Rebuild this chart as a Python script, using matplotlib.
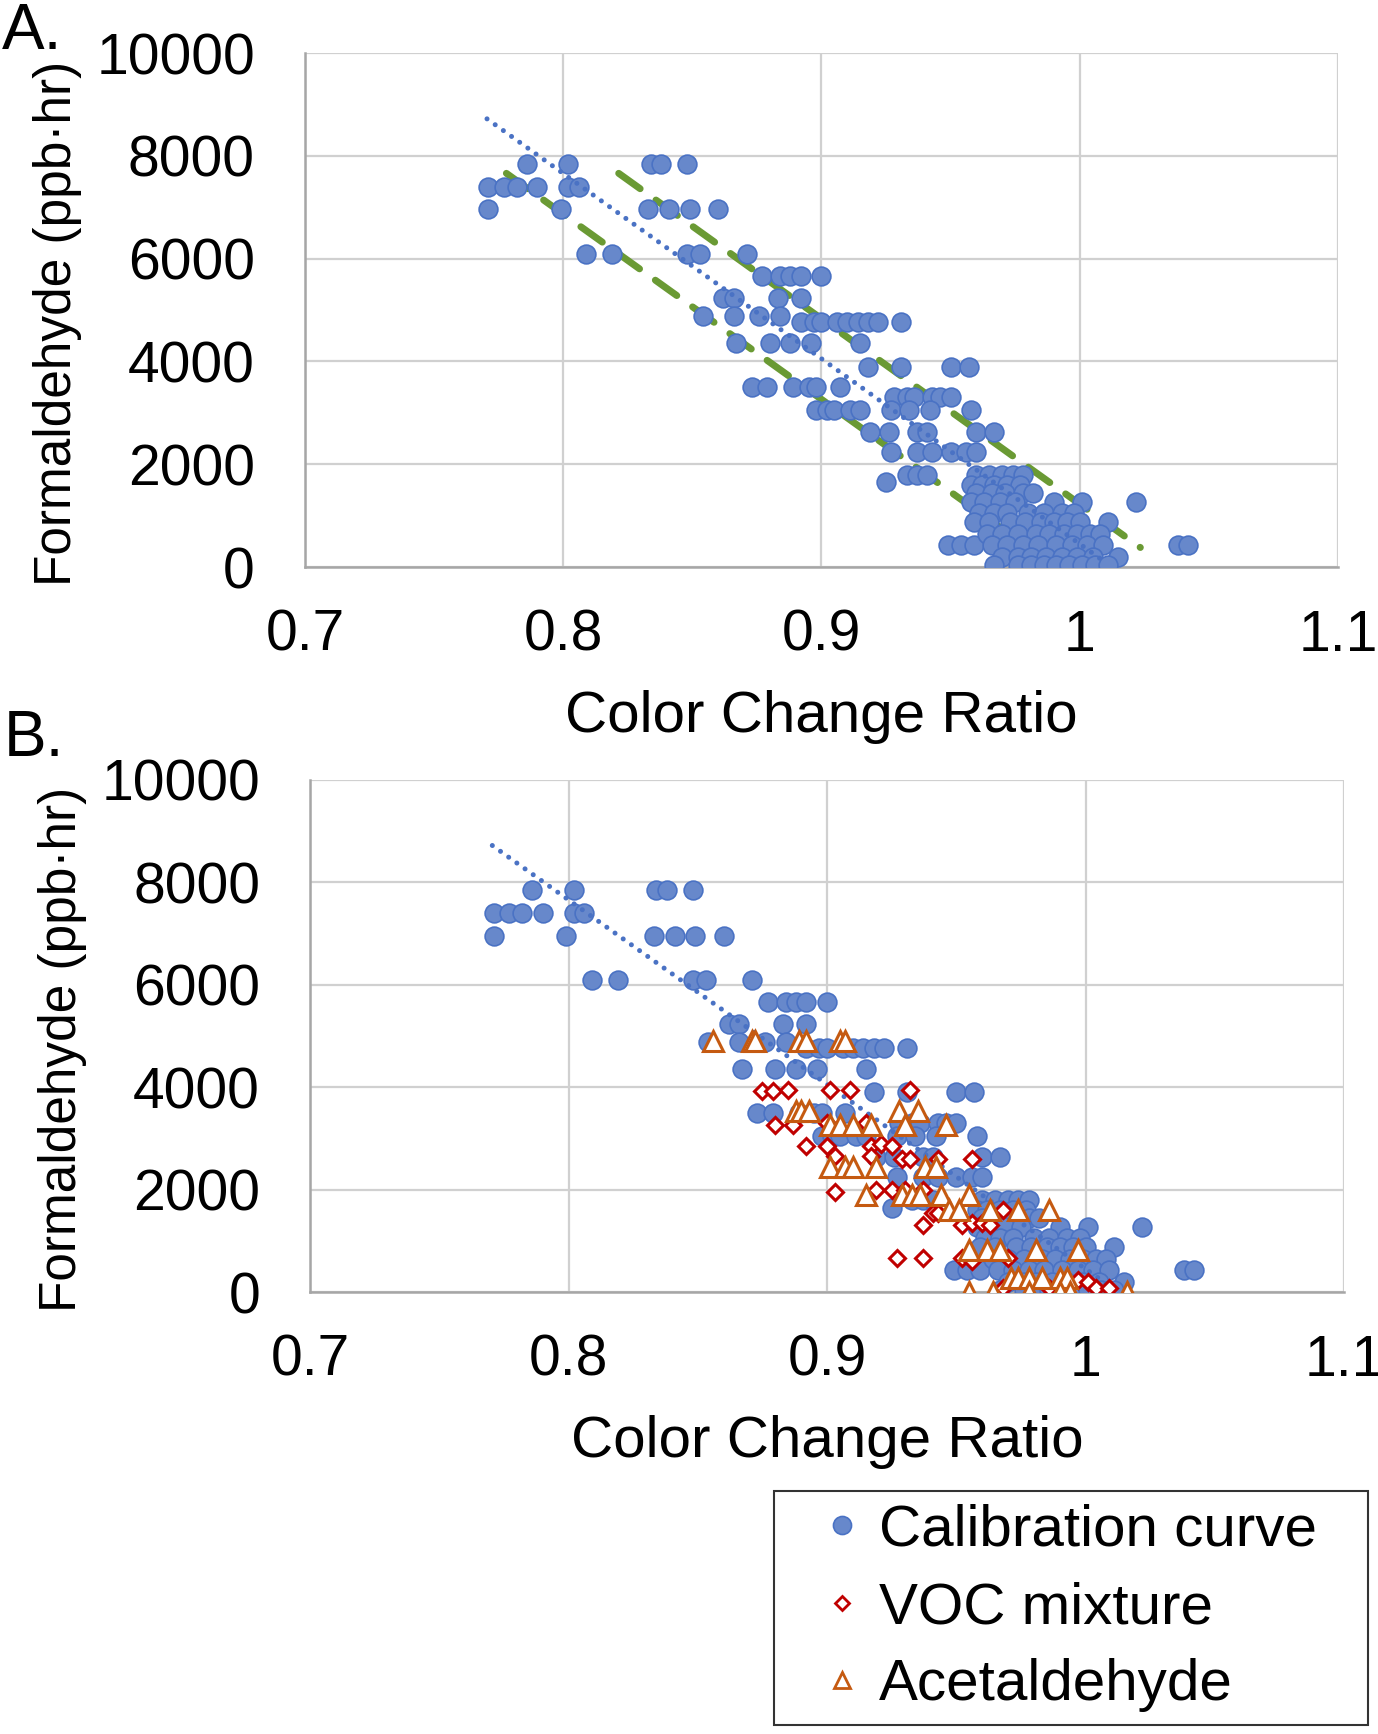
import matplotlib
matplotlib.use('Agg')
import matplotlib.pyplot as plt
from matplotlib.lines import Line2D

plt.rcParams['font.family'] = ['Liberation Sans', 'DejaVu Sans']

# ---------------- data ----------------
calib_x = [
    0.786, 0.802, 0.834, 0.838, 0.848,
    0.771, 0.777, 0.782, 0.790, 0.802, 0.806,
    0.771, 0.799, 0.833, 0.841, 0.849, 0.860,
    0.809, 0.819, 0.848, 0.853, 0.871,
    0.877, 0.884, 0.888, 0.892, 0.900,
    0.862, 0.866, 0.883, 0.892,
    0.854, 0.866, 0.876, 0.884,
    0.892, 0.897, 0.900, 0.906, 0.910, 0.914, 0.918, 0.922, 0.931,
    0.867, 0.880, 0.888, 0.896, 0.915,
    0.918, 0.931, 0.950, 0.957,
    0.873, 0.879, 0.889, 0.895, 0.898, 0.907,
    0.928, 0.933, 0.936, 0.943, 0.946, 0.950,
    0.898, 0.902, 0.905, 0.911, 0.915, 0.927, 0.934, 0.942, 0.958,
    0.919, 0.926, 0.937, 0.941, 0.960, 0.967,
    0.927, 0.937, 0.943, 0.950, 0.956, 0.960,
    0.933, 0.937, 0.941,
    0.925,
    0.949, 0.954, 0.959, 1.038, 1.042,
    1.022,
    0.960, 0.965, 0.970, 0.974, 0.978,
    0.958, 0.962, 0.967, 0.972, 0.977,
    0.960, 0.966, 0.971, 0.978, 0.982,
    0.958, 0.963, 0.969, 0.975, 0.990, 1.001,
    0.961, 0.967, 0.972, 0.980, 0.986, 0.993, 0.998,
    0.959, 0.965, 0.973, 0.979, 0.985, 0.990, 0.995, 1.000, 1.011,
    0.964, 0.970, 0.976, 0.983, 0.988, 0.994, 0.999, 1.004, 1.008,
    0.966, 0.972, 0.978, 0.984, 0.991, 0.997, 1.003, 1.009,
    0.970, 0.976, 0.981, 0.987, 0.993, 0.999, 1.005, 1.015,
    0.967, 0.976, 0.981, 0.986, 0.991, 0.996, 1.001, 1.006, 1.011,
]
calib_y = [
    7850, 7850, 7850, 7850, 7850,
    7400, 7400, 7400, 7400, 7400, 7400,
    6960, 6960, 6960, 6960, 6960, 6960,
    6090, 6090, 6090, 6090, 6090,
    5660, 5660, 5660, 5660, 5660,
    5240, 5240, 5240, 5240,
    4880, 4880, 4880, 4880,
    4770, 4770, 4770, 4770, 4770, 4770, 4770, 4770, 4770,
    4360, 4360, 4360, 4360, 4360,
    3900, 3900, 3900, 3900,
    3500, 3500, 3500, 3500, 3500, 3500,
    3300, 3300, 3300, 3300, 3300, 3300,
    3050, 3050, 3050, 3050, 3050, 3050, 3050, 3050, 3050,
    2630, 2630, 2630, 2630, 2630, 2630,
    2240, 2240, 2240, 2240, 2240, 2240,
    1800, 1800, 1800,
    1650,
    430, 430, 430, 430, 430,
    1270,
    1800, 1800, 1800, 1800, 1800,
    1600, 1600, 1600, 1600, 1600,
    1440, 1440, 1440, 1440, 1440,
    1270, 1270, 1270, 1270, 1270, 1270,
    1050, 1050, 1050, 1050, 1050, 1050, 1050,
    880, 880, 880, 880, 880, 880, 880, 880, 880,
    650, 650, 650, 650, 650, 650, 650, 650, 650,
    430, 430, 430, 430, 430, 430, 430, 430,
    200, 200, 200, 200, 200, 200, 200, 200,
    30, 30, 30, 30, 30, 30, 30, 30, 30,
]

voc_x = [0.875, 0.879, 0.885, 0.901, 0.909, 0.932,
         0.880, 0.887, 0.900, 0.915,
         0.892, 0.900, 0.917, 0.921, 0.925,
         0.903, 0.917, 0.929, 0.932, 0.943, 0.956,
         0.903, 0.919, 0.925, 0.930, 0.937,
         0.941, 0.943,
         0.937, 0.952, 0.956, 0.960, 0.963, 0.968,
         0.927, 0.937, 0.952, 0.956, 0.970,
         0.968, 0.986, 0.997, 1.001, 1.004, 1.009]
voc_y = [3920, 3920, 3950, 3950, 3950, 3950,
         3270, 3270, 3300, 3300,
         2850, 2850, 2850, 2900, 2850,
         2650, 2650, 2600, 2600, 2600, 2600,
         1960, 2000, 2000, 2000, 2000,
         1550, 1550,
         1300, 1300, 1350, 1350, 1300, 1600,
         670, 670, 670, 600, 670,
         70, 70, 240, 200, 70, 70]

acet_x = [0.856, 0.871, 0.872, 0.889, 0.892, 0.905, 0.907,
          0.888, 0.890, 0.893, 0.928, 0.935,
          0.901, 0.905, 0.910, 0.917, 0.930, 0.946,
          0.901, 0.907, 0.910, 0.919, 0.938, 0.942,
          0.915, 0.929, 0.933, 0.936, 0.944, 0.955,
          0.947, 0.951, 0.963, 0.974, 0.986,
          0.955, 0.962, 0.967, 0.981, 0.997,
          0.971, 0.974, 0.978, 0.983, 0.990, 0.993,
          0.955, 0.964, 0.978, 0.990, 0.994, 1.016]
acet_y = [4900, 4900, 4900, 4900, 4900, 4900, 4900,
          3530, 3530, 3530, 3530, 3530,
          3270, 3270, 3270, 3270, 3270, 3270,
          2450, 2450, 2450, 2450, 2450, 2450,
          1900, 1900, 1900, 1900, 1900, 1900,
          1600, 1600, 1600, 1600, 1600,
          820, 820, 820, 820, 820,
          270, 270, 270, 270, 270, 270,
          0, 0, 0, 0, 0, 0]

trend_x = [0.7705, 1.010]
trend_y = [8720, 90]
band_low_x = [0.778, 0.980]
band_high_x = [0.8215, 1.0235]
band_y = [7660, 380]

xticks = [0.7, 0.8, 0.9, 1.0, 1.1]
xticklabels = ['0.7', '0.8', '0.9', '1', '1.1']
yticks = [0, 2000, 4000, 6000, 8000, 10000]

# ---------------- style ----------------
BLUE_FACE = '#6788cb'
BLUE_EDGE = '#4a72c4'
RED = '#c00000'
ORANGE = '#c55a11'
GREEN = '#6a9a34'
TICK_FS = 41
LABEL_FS = 42
YLABEL_FS = 37

fig = plt.figure(figsize=(13.78, 17.34), dpi=100)
axA = fig.add_axes([0.2213, 0.6730, 0.7496, 0.2964])
axB = fig.add_axes([0.2250, 0.2549, 0.7504, 0.2953])


def style(ax):
    ax.set_xlim(0.7, 1.1)
    ax.set_ylim(0, 10000)
    ax.set_xticks(xticks)
    ax.set_xticklabels(xticklabels)
    ax.set_yticks(yticks)
    ax.grid(True, color='#d0d0d0', linewidth=1.6, zorder=0)
    ax.set_axisbelow(True)
    for s in ['top', 'right']:
        ax.spines[s].set_visible(False)
    for s in ['left', 'bottom']:
        ax.spines[s].set_color('#a6a6a6')
        ax.spines[s].set_linewidth(1.8)
    ax.tick_params(axis='both', length=0, labelsize=TICK_FS)
    ax.tick_params(axis='y', pad=36)
    ax.tick_params(axis='x', pad=30)
    ax.set_xlabel('Color Change Ratio', fontsize=LABEL_FS, labelpad=20)
    ax.set_ylabel('Formaldehyde (ppb·hr)', fontsize=YLABEL_FS)
    ax.yaxis.set_label_coords(-0.216, 0.473)


for ax in (axA, axB):
    style(ax)
    ax.plot(calib_x, calib_y, linestyle='none', marker='o', ms=13.5,
            mfc=BLUE_FACE, mec=BLUE_EDGE, mew=1.2, zorder=3)
    ax.plot(trend_x, trend_y, linestyle=(0, (0.01, 2.0)), color=BLUE_EDGE,
            linewidth=3.6, dash_capstyle='round', zorder=4)

axA.plot(band_low_x, band_y, color=GREEN, linewidth=5, linestyle=(0, (3.8, 2.8)),
         dash_capstyle='round', zorder=2)
axA.plot(band_high_x, band_y, color=GREEN, linewidth=5, linestyle=(0, (3.8, 2.8)),
         dash_capstyle='round', zorder=2)

axB.plot(voc_x, voc_y, linestyle='none', marker='D', ms=8.5, mfc='white',
         mec=RED, mew=2.2, zorder=5)
axB.plot(acet_x, acet_y, linestyle='none', marker='^', ms=14, mfc='white',
         mec=ORANGE, mew=2.2, zorder=6)

fig.text(0.001, 0.999, 'A.', fontsize=46, ha='left', va='top')
fig.text(0.003, 0.591, 'B.', fontsize=46, ha='left', va='top')

handles = [
    Line2D([], [], linestyle='none', marker='o', ms=13, mfc=BLUE_FACE, mec=BLUE_EDGE, mew=1.2),
    Line2D([], [], linestyle='none', marker='D', ms=7.5, mfc='white', mec=RED, mew=2.0),
    Line2D([], [], linestyle='none', marker='^', ms=12, mfc='white', mec=ORANGE, mew=2.0),
]
leg = fig.legend(handles, ['Calibration curve', 'VOC mixture', 'Acetaldehyde'],
                 loc='upper left',
                 bbox_to_anchor=(774 / 1378, 0.0035, 594 / 1378, 237 / 1734),
                 mode='expand', fontsize=LABEL_FS,
                 frameon=True, fancybox=False, edgecolor='black', borderpad=0.22,
                 labelspacing=0.40, handletextpad=-0.30, handlelength=1.88,
                 borderaxespad=0)
leg.get_frame().set_linewidth(1.5)

fig.savefig('out.png', dpi=100)
